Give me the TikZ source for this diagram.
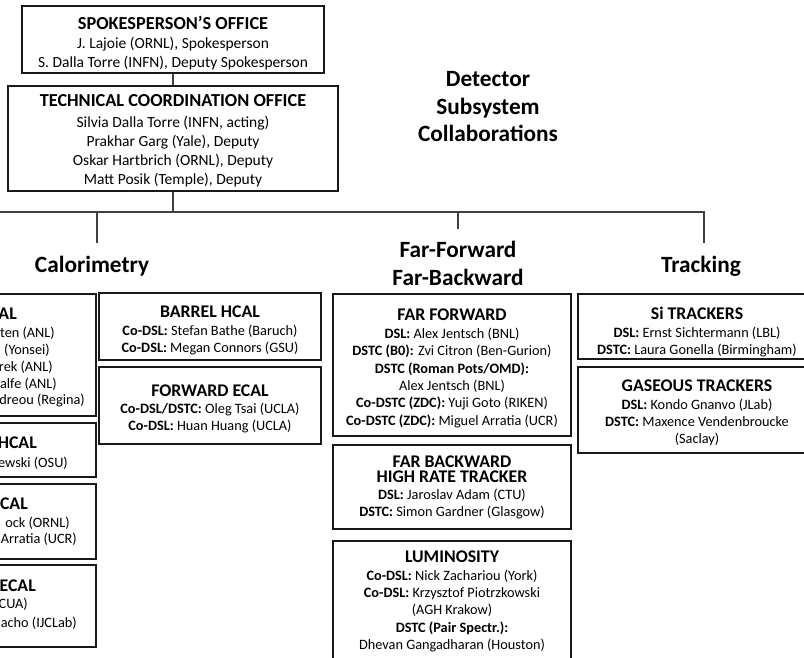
\documentclass[tikz,border=0pt]{standalone}
\usepackage{fontspec}
\setmainfont{Carlito}
\newcommand{\ttlA}[1]{{\fontsize{18.3}{21}\selectfont\bfseries #1}}
\newcommand{\ttlB}[1]{{\fontsize{17.8}{19}\selectfont\bfseries #1}}
\newcommand{\lb}[1]{\textbf{#1}}
\tikzset{
  box/.style={draw=black!90, line width=1.7pt, rectangle, inner sep=0pt},
  txt/.style={align=center, inner sep=0pt},
  topbody/.style={txt, font=\fontsize{15.5}{18.9}\selectfont},
  body/.style={txt, font=\fontsize{14.3}{17.3}\selectfont},
  conn/.style={draw=black!75, line width=1.1pt},
  grp/.style={font=\fontsize{23.3}{28}\selectfont\bfseries, align=center, inner sep=0pt},
  frag/.style={font=\fontsize{14.3}{17}\selectfont, anchor=base east, inner sep=0pt},
  fragt/.style={font=\fontsize{17.8}{19}\selectfont\bfseries, anchor=base east, inner sep=0pt}
}
\begin{document}
\begin{tikzpicture}[x=1pt,y=-1pt]
\clip (0,0) rectangle (804,658);
\fill[white] (0,0) rectangle (804,658);

% offices
\node[box, minimum width=302, minimum height=67] (sp) at (173,39.5) {};
\node[topbody] (spt) at (173,43)
  {\ttlA{SPOKESPERSON’S OFFICE}\\[1pt] J. Lajoie (ORNL), Spokesperson\\ S. Dalla Torre (INFN), Deputy Spokesperson};
\node[box, minimum width=330, minimum height=105] (tco) at (173,138.5) {};
\node[topbody] (tcot) at (173,141)
  {\ttlA{TECHNICAL COORDINATION OFFICE}\\[2pt] Silvia Dalla Torre (INFN, acting)\\ Prakhar Garg (Yale), Deputy\\ Oskar Hartbrich (ORNL), Deputy\\ Matt Posik (Temple), Deputy};

\node[grp, font=\fontsize{23.3}{27.5}\selectfont\bfseries] (dsc) at (488,107) {Detector\\ Subsystem\\ Collaborations};

% group headers
\node[grp] (cal) at (92,266) {Calorimetry};
\node[grp] (ffh) at (458,263) {Far-Forward\\ Far-Backward};
\node[grp] (trk) at (701,266) {Tracking};

% connectors
\coordinate (busL) at (-5,212);
\coordinate (busR) at (704,212);
\coordinate (calTop) at (97,243);
\coordinate (ffTop) at (458,229);
\coordinate (trkTop) at (704,243);
\draw[conn] (sp.south) -- (tco.north);
\draw[conn] (tco.south) -- (tco.south |- busL);
\draw[conn] (busL) -- (busR) -- (trkTop);
\draw[conn] (busL -| calTop) -- (calTop);
\draw[conn] (busL -| ffTop) -- (ffTop);

% calorimetry: cut-off left column
\node[box, minimum width=222, minimum height=122, anchor=north east] (c1) at (97,293) {};
\node[box, minimum width=222, minimum height=54, anchor=north east] (c2) at (97,422) {};
\node[box, minimum width=222, minimum height=75, anchor=north east] (c3) at (97,483) {};
\node[box, minimum width=222, minimum height=82, anchor=north east] (c4) at (97,564) {};
\node[fragt] (c1t) at (17,319) {AL};
\node[frag] (c1a) at (55,337) {ten (ANL)};
\node[frag] (c1b) at (50,354) {(Yonsei)};
\node[frag] (c1c) at (53,371) {rek (ANL)};
\node[frag] (c1d) at (57,388) {alfe (ANL)};
\node[frag] (c1e) at (85,404) {dreou (Regina)};
\node[fragt] (c2t) at (37,448) {HCAL};
\node[frag] (c2a) at (68,467) {ewski (OSU)};
\node[fragt] (c3t) at (28,509) {CAL};
\node[frag] (c3a) at (70,527) {ock (ORNL)};
\node[frag] (c3b) at (77,543) {Arratia (UCR)};
\node[fragt] (c4t) at (36,591) {ECAL};
\node[frag] (c4a) at (28,608) {CUA)};
\node[frag] (c4b) at (77,627) {acho (IJCLab)};

% calorimetry: second column
\node[box, minimum width=222, minimum height=67] (bh) at (210,326.5) {};
\node[body] (bht) at (210,330.5)
  {\ttlB{BARREL HCAL}\\ \lb{Co-DSL:} Stefan Bathe (Baruch)\\ \lb{Co-DSL:} Megan Connors (GSU)};
\node[box, minimum width=222, minimum height=77] (fe) at (210,405.5) {};
\node[body] (fet) at (210,409)
  {\ttlB{FORWARD ECAL}\\ \lb{Co-DSL/DSTC:} Oleg Tsai (UCLA)\\ \lb{Co-DSL:} Huan Huang (UCLA)};

% far-forward / far-backward
\node[box, minimum width=238, minimum height=142] (ff) at (452,365) {};
\node[body] (fft) at (452,368)
  {\ttlB{FAR FORWARD}\\[1pt] \lb{DSL:} Alex Jentsch (BNL)\\ \lb{DSTC (B0):} Zvi Citron (Ben-Gurion)\\ \lb{DSTC (Roman Pots/OMD):}\\ Alex Jentsch (BNL)\\ \lb{Co-DSTC (ZDC):} Yuji Goto (RIKEN)\\ \lb{Co-DSTC (ZDC):} Miguel Arratia (UCR)};
\node[box, minimum width=238, minimum height=84] (fb) at (452,487) {};
\node[body] (fbt) at (452,487.5)
  {\ttlB{FAR BACKWARD}\\[-2pt] \ttlB{HIGH RATE TRACKER}\\[-1pt] \lb{DSL:} Jaroslav Adam (CTU)\\ \lb{DSTC:} Simon Gardner (Glasgow)};
\node[box, minimum width=238, minimum height=130, anchor=north] (lum) at (452,540) {};
\node[body, anchor=north] (lumt) at (452,551)
  {\ttlB{LUMINOSITY}\\ \lb{Co-DSL:} Nick Zachariou (York)\\ \lb{Co-DSL:} Krzysztof Piotrzkowski\\ (AGH Krakow)\\ \lb{DSTC (Pair Spectr.):}\\ Dhevan Gangadharan (Houston)};

% tracking
\node[box, minimum width=238, minimum height=65] (si) at (697,326.5) {};
\node[body] (sit) at (697,332)
  {\ttlB{Si TRACKERS}\\[1pt] \lb{DSL:} Ernst Sichtermann (LBL)\\ \lb{DSTC:} Laura Gonella (Birmingham)};
\node[box, minimum width=238, minimum height=86] (gas) at (697,410) {};
\node[body] (gast) at (697,413)
  {\ttlB{GASEOUS TRACKERS}\\ \lb{DSL:} Kondo Gnanvo (JLab)\\ \lb{DSTC:} Maxence Vendenbroucke\\ (Saclay)};
\end{tikzpicture}
\end{document}
